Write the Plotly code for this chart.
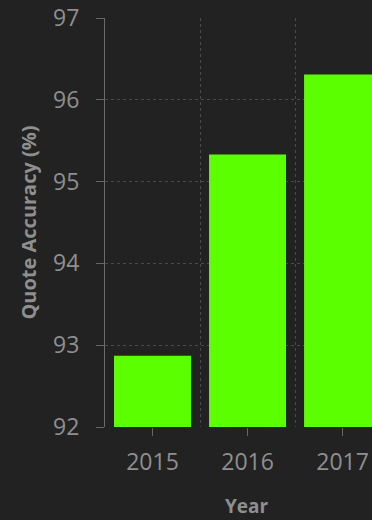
import plotly.graph_objects as go

# Quote accuracy by year
years = [2015, 2016, 2017]
accuracy = [92.87, 95.33, 96.31]
y_ticks = [92, 93, 94, 95, 96, 97]

BG = "#222222"
BAR = "#5BFF00"
TXT = "#8f8f8f"
GRID = "#4a4a4a"
FONT = "Open Sans"

fig = go.Figure(
    go.Bar(x=years, y=accuracy, width=0.81, marker=dict(color=BAR, line=dict(width=0)))
)

fig.update_layout(
    width=372,
    height=520,
    margin=dict(l=105, r=0, t=18, b=93),
    paper_bgcolor=BG,
    plot_bgcolor=BG,
    showlegend=False,
    font=dict(family=FONT, color=TXT),
)

fig.update_xaxes(
    range=[2014.5, 2017.31],
    tickvals=years,
    ticktext=[str(y) for y in years],
    tickfont=dict(size=23, color=TXT),
    ticks="outside",
    ticklen=8,
    tickcolor="#666666",
    ticklabelstandoff=6,
    showgrid=False,
    showline=False,
    zeroline=False,
    minor=dict(tick0=2014.5, dtick=1, showgrid=True, gridcolor=GRID, griddash="dot", gridwidth=1),
)

# x-axis title, centred under the full year span
fig.add_annotation(
    text="<b>Year</b>",
    xref="paper", yref="paper",
    x=0.532, y=-0.192,
    xanchor="center", yanchor="middle",
    showarrow=False,
    borderpad=0,
    font=dict(size=19, color=TXT, family=FONT),
)

fig.update_yaxes(
    range=[92, 97],
    tickvals=y_ticks,
    tickfont=dict(size=23, color=TXT),
    ticks="outside",
    ticklen=8,
    tickcolor="#666666",
    ticklabelstandoff=12,
    showgrid=True,
    gridcolor=GRID,
    griddash="dot",
    gridwidth=1,
    showline=True,
    linecolor="#6a6a6a",
    linewidth=1,
    zeroline=False,
    title=dict(text="<b>Quote Accuracy (%)</b>", font=dict(size=20, color=TXT), standoff=11),
)

fig.write_html("out.html")
